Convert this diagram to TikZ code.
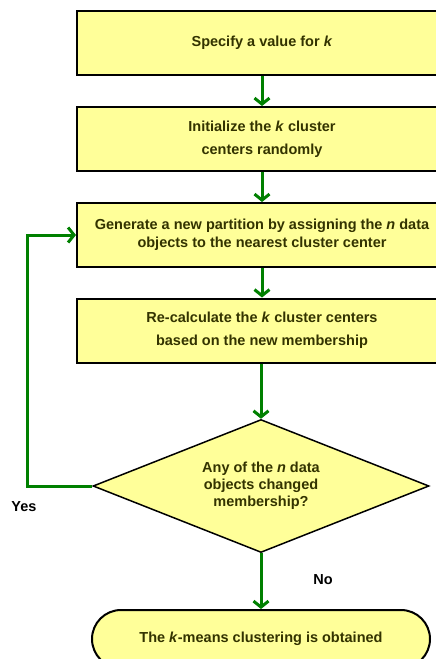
\documentclass[tikz,border=0pt]{standalone}
\usepackage{fontspec}
\setmainfont{Liberation Sans}
\usepackage{tikz}
\usetikzlibrary{shapes.geometric}
\usetikzlibrary{arrows.meta}

\definecolor{boxfill}{HTML}{FFFF99}
\definecolor{olivetext}{HTML}{333300}
\definecolor{flowgreen}{HTML}{008000}

\begin{document}
\begin{tikzpicture}[x=1pt, y=-1pt,
	stepbox/.style={draw=black, line width=2pt, fill=boxfill, text=olivetext, align=center,
		minimum width=370pt, minimum height=64pt, inner sep=0pt},
	flow/.style={draw=flowgreen, line width=3pt, -{Straight Barb[length=6pt, width=15pt]}},
	answer/.style={font=\fontsize{14.5}{17}\selectfont\bfseries, text=black}]
	\clip (0,0) rectangle (436,659);

	\node[stepbox, font=\fontsize{14.5}{23}\selectfont\bfseries] (spec) at (262,43)
		{Specify a value for \textit{k}};
	\node[stepbox, font=\fontsize{14.5}{23}\selectfont\bfseries] (init) at (262,139)
		{Initialize the \textit{k} cluster\\centers randomly};
	\node[stepbox, font=\fontsize{14.5}{18}\selectfont\bfseries] (assign) at (262,235)
		{Generate a new partition by assigning the \textit{n} data\\objects to the nearest cluster center};
	\node[stepbox, font=\fontsize{14.5}{23}\selectfont\bfseries] (recalc) at (262,330.5)
		{Re-calculate the \textit{k} cluster centers\\based on the new membership};

	\node[diamond, draw=black, line width=1.5pt, fill=boxfill, text=olivetext, align=center,
		minimum width=336pt, minimum height=133pt, inner sep=0pt, aspect=2.5,
		font=\fontsize{14.5}{17}\selectfont\bfseries] (check) at (261,486)
		{Any of the \textit{n} data\\objects changed\\membership?};

	\node[draw=black, line width=2pt, fill=boxfill, text=olivetext, rounded corners=29pt,
		minimum width=338pt, minimum height=58pt, inner sep=0pt,
		font=\fontsize{14.5}{17}\selectfont\bfseries] (done) at (261,639)
		{The \textit{k}-means clustering is obtained};

	\draw[flow] (spec) -- (init);
	\draw[flow] (init) -- (assign);
	\draw[flow] (assign) -- (recalc);
	\draw[flow] (recalc.south -| check.north) -- (check.north);
	\draw[flow] (check.south) -- (done.north -| check.south);
	\draw[flow] (check.west) -- ++(-65,0) |- (assign.west);

	\node[answer] (yes) at (24,507) {Yes};
	\node[answer] (no) at (323,580) {No};
\end{tikzpicture}
\end{document}
